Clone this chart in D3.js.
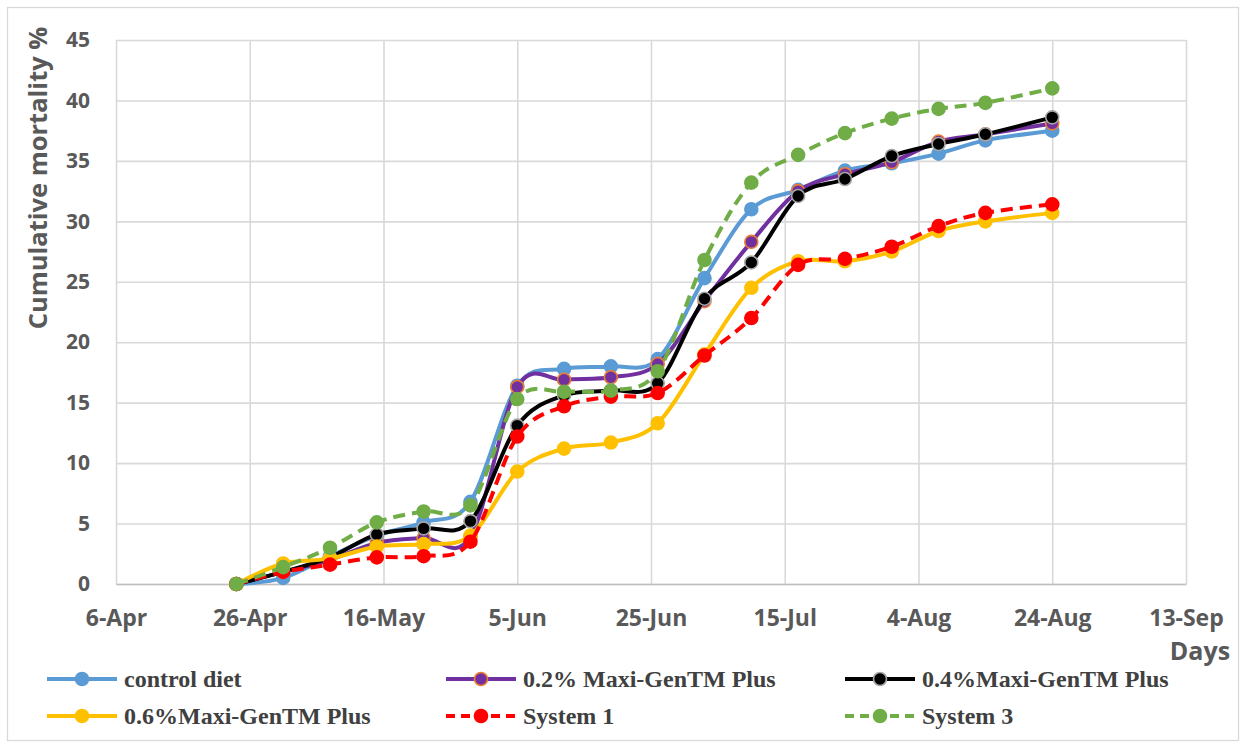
<!DOCTYPE html>
<html>
<head>
<meta charset="utf-8">
<script src="https://cdn.jsdelivr.net/npm/d3@7"></script>
<style>
  body { margin: 0; background: #fff; }
  svg { display: block; }
</style>
</head>
<body>
<script>
// sampling dates (weekly, last one after 10 days)
const sampleDates = ["24-Apr", "1-May", "8-May", "15-May", "22-May", "29-May", "5-Jun",
  "12-Jun", "19-Jun", "26-Jun", "3-Jul", "10-Jul", "17-Jul", "24-Jul", "31-Jul",
  "7-Aug", "14-Aug", "24-Aug"];

const controlDiet = [0, 0.5, 2.3, 4.0, 5.1, 6.8, 16.4, 17.8, 18.0, 18.6, 25.3, 31.0, 32.6, 34.2, 34.8, 35.6, 36.7, 37.5];
const maxi02 = [0, 1.0, 2.0, 3.4, 3.8, 3.9, 16.3, 16.9, 17.1, 18.2, 23.4, 28.3, 32.5, 33.9, 34.9, 36.6, 37.2, 38.1];
const maxi04 = [0, 1.0, 2.2, 4.1, 4.6, 5.2, 13.1, 15.6, 16.0, 16.6, 23.6, 26.6, 32.1, 33.5, 35.4, 36.4, 37.2, 38.6];
const maxi06 = [0, 1.7, 2.1, 3.1, 3.3, 4.0, 9.3, 11.2, 11.7, 13.3, 19.0, 24.5, 26.7, 26.7, 27.5, 29.2, 30.0, 30.7];
const system1 = [0, 1.0, 1.6, 2.2, 2.3, 3.5, 12.2, 14.7, 15.5, 15.8, 18.9, 22.0, 26.4, 26.9, 27.9, 29.6, 30.7, 31.4];
const system3 = [0, 1.4, 3.0, 5.1, 6.0, 6.5, 15.3, 15.9, 16.0, 17.6, 26.8, 33.2, 35.5, 37.3, 38.5, 39.3, 39.8, 41.0];

const seriesNames = ["control diet", "0.2% Maxi-GenTM Plus", "0.4%Maxi-GenTM Plus",
  "0.6%Maxi-GenTM Plus", "System 1", "System 3"];

const xTickLabels = ["6-Apr", "26-Apr", "16-May", "5-Jun", "25-Jun", "15-Jul", "4-Aug", "24-Aug", "13-Sep"];
const yTicks = [0, 5, 10, 15, 20, 25, 30, 35, 40, 45];

const year = 2019;
const parseDay = (s) => d3.timeParse("%d-%b-%Y")(`${s}-${year}`);

const styles = [
  { line: "#5B9BD5", fill: "#5B9BD5", stroke: "#5B9BD5", dash: null },
  { line: "#7030A0", fill: "#7030A0", stroke: "#ED7D31", dash: null },
  { line: "#000000", fill: "#000000", stroke: "#A5A5A5", dash: null },
  { line: "#FFC000", fill: "#FFC000", stroke: "#FFC000", dash: null },
  { line: "#FF0000", fill: "#FF0000", stroke: "#FF0000", dash: "12,7" },
  { line: "#70AD47", fill: "#70AD47", stroke: "#70AD47", dash: "12,7" }
];

const seriesValues = [controlDiet, maxi02, maxi04, maxi06, system1, system3];
const series = seriesNames.map((name, i) => ({
  name,
  style: styles[i],
  points: sampleDates.map((d, j) => ({ date: parseDay(d), value: seriesValues[i][j] }))
}));

const width = 1248;
const height = 748;
const plot = { left: 116, right: 1186, top: 40, bottom: 584 };

const svg = d3.select("body").append("svg")
  .attr("width", width)
  .attr("height", height);

// chart area border
svg.append("rect")
  .attr("x", 7.5).attr("y", 7.5)
  .attr("width", 1231).attr("height", 733)
  .attr("fill", "#fff")
  .attr("stroke", "#d9d9d9")
  .attr("stroke-width", 1.3);

const xTicks = xTickLabels.map(parseDay);

const xScale = d3.scaleTime()
  .domain([xTicks[0], xTicks[xTicks.length - 1]])
  .range([plot.left, plot.right]);

const yScale = d3.scaleLinear()
  .domain([0, 45])
  .range([plot.bottom, plot.top]);

// gridlines
const gridGroup = svg.append("g");
gridGroup.append("g")
  .attr("transform", `translate(0 ${plot.bottom})`)
  .call(d3.axisBottom(xScale).tickValues(xTicks).tickSize(-(plot.bottom - plot.top)).tickFormat(""))
  .call((g) => g.select(".domain").remove());
gridGroup.append("g")
  .attr("transform", `translate(${plot.left} 0)`)
  .call(d3.axisLeft(yScale).tickValues(yTicks).tickSize(-(plot.right - plot.left)).tickFormat(""))
  .call((g) => g.select(".domain").remove());
gridGroup.selectAll("line")
  .attr("stroke", "#d9d9d9")
  .attr("stroke-width", 1.6);

// axes with labels
const xAxis = d3.axisBottom(xScale)
  .tickValues(xTicks)
  .tickSize(0)
  .tickPadding(26)
  .tickFormat(d3.timeFormat("%-d-%b"));
const yAxis = d3.axisLeft(yScale)
  .tickValues(yTicks)
  .tickSize(0)
  .tickPadding(26);

const axisGroup = svg.append("g");
axisGroup.append("g")
  .attr("class", "axis x-axis")
  .attr("transform", `translate(0 ${plot.bottom})`)
  .call(xAxis);
axisGroup.append("g")
  .attr("class", "axis y-axis")
  .attr("transform", `translate(${plot.left} 0)`)
  .call(yAxis);

axisGroup.selectAll(".domain")
  .attr("stroke", "#bfbfbf")
  .attr("stroke-width", 1.6);
axisGroup.select(".y-axis .domain").remove();
axisGroup.selectAll("text")
  .attr("font-family", "'Open Sans', sans-serif")
  .attr("font-weight", 700)
  .attr("fill", "#595959");
axisGroup.select(".x-axis").selectAll("text").attr("font-size", 23);
axisGroup.select(".y-axis").selectAll("text").attr("font-size", 21);

// axis titles
svg.append("text")
  .attr("transform", "translate(47 178) rotate(-90)")
  .attr("text-anchor", "middle")
  .attr("font-family", "'Open Sans', sans-serif")
  .attr("font-weight", 700)
  .attr("font-size", 25.5)
  .attr("fill", "#595959")
  .text("Cumulative mortality %");

svg.append("text")
  .attr("x", 1200)
  .attr("y", 660)
  .attr("text-anchor", "middle")
  .attr("font-family", "'Open Sans', sans-serif")
  .attr("font-weight", 700)
  .attr("font-size", 25)
  .attr("fill", "#595959")
  .text("Days");

// data
const line = d3.line()
  .x((d) => xScale(d.date))
  .y((d) => yScale(d.value))
  .curve(d3.curveCatmullRom.alpha(0));

const dataGroup = svg.append("g");

series.forEach((s) => {
  const g = dataGroup.append("g");
  g.append("path")
    .datum(s.points)
    .attr("d", line)
    .attr("fill", "none")
    .attr("stroke", s.style.line)
    .attr("stroke-width", 4)
    .attr("stroke-dasharray", s.style.dash);
  g.selectAll("circle")
    .data(s.points)
    .enter()
    .append("circle")
    .attr("cx", (d) => xScale(d.date))
    .attr("cy", (d) => yScale(d.value))
    .attr("r", 6.5)
    .attr("fill", s.style.fill)
    .attr("stroke", s.style.stroke)
    .attr("stroke-width", 1.6);
});

// legend
const legendCols = [47, 446, 845];
const legendRows = [679, 716];
const legend = svg.append("g");

series.forEach((s, i) => {
  const x = legendCols[i % 3];
  const y = legendRows[Math.floor(i / 3)];
  const item = legend.append("g").attr("transform", `translate(${x} ${y})`);
  item.append("line")
    .attr("x1", 0).attr("x2", 70)
    .attr("stroke", s.style.line)
    .attr("stroke-width", 4)
    .attr("stroke-dasharray", s.style.dash ? "9,6" : null);
  item.append("circle")
    .attr("cx", 35)
    .attr("r", 6.5)
    .attr("fill", s.style.fill)
    .attr("stroke", s.style.stroke)
    .attr("stroke-width", 1.6);
  item.append("text")
    .attr("x", 77)
    .attr("dy", "0.33em")
    .attr("font-family", "'Liberation Serif', 'Times New Roman', serif")
    .attr("font-weight", 700)
    .attr("font-size", 24)
    .attr("fill", "#404040")
    .text(s.name);
});
</script>
</body>
</html>
